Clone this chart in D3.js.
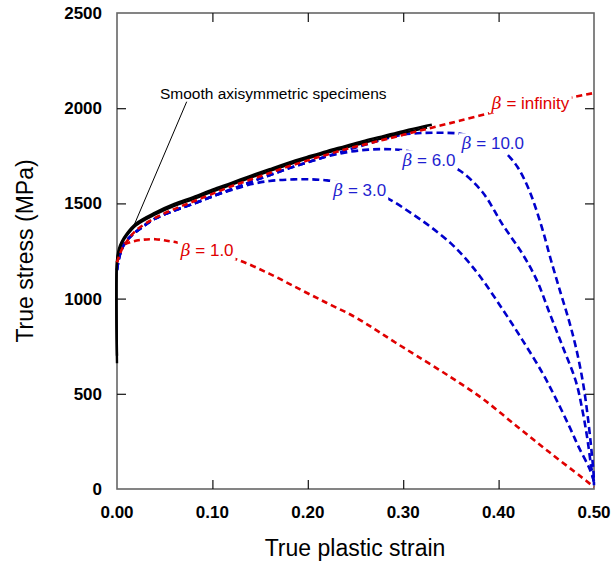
<!DOCTYPE html>
<html>
<head>
<meta charset="utf-8">
<script src="https://cdn.jsdelivr.net/npm/d3@7"></script>
<style>
  body { margin: 0; background: #fff; }
  text { font-family: "Liberation Sans", Arial, sans-serif; }
</style>
</head>
<body>
<div id="chart"></div>
<script>
// true plastic strain vs true stress (MPa)
const smoothA = [[0,660],[0,1200],[0.002,1262],[0.005,1300],[0.01,1340],[0.02,1395],[0.04,1452],[0.06,1497],[0.08,1533],[0.10,1572],[0.12,1608],[0.14,1645],[0.16,1680],[0.18,1714],[0.20,1745],[0.22,1775],[0.24,1802],[0.26,1830],[0.28,1855],[0.30,1880],[0.32,1903],[0.33,1913]];
const smoothB = [[0,700],[0,1190],[0.002,1250],[0.005,1290],[0.01,1330],[0.02,1385],[0.04,1442],[0.06,1487],[0.08,1523],[0.10,1562],[0.12,1598],[0.14,1635],[0.16,1670],[0.18,1704],[0.20,1736],[0.22,1766],[0.24,1793],[0.26,1820],[0.28,1845],[0.30,1870],[0.32,1893],[0.325,1898]];

const betaInf = [[0,1190],[0.005,1258],[0.01,1298],[0.02,1358],[0.04,1424],[0.06,1470],[0.08,1510],[0.10,1550],[0.12,1590],[0.14,1625],[0.16,1660],[0.18,1695],[0.20,1726],[0.22,1756],[0.24,1785],[0.26,1810],[0.28,1835],[0.30,1860],[0.32,1885],[0.34,1910],[0.36,1935],[0.39,1973],[0.42,2005],[0.44,2022],[0.46,2040],[0.48,2060],[0.50,2080]];
const beta10 = [[0,1150],[0.003,1230],[0.008,1290],[0.015,1330],[0.025,1370],[0.04,1420],[0.06,1462],[0.08,1498],[0.10,1537],[0.12,1574],[0.14,1612],[0.16,1648],[0.18,1684],[0.20,1716],[0.22,1748],[0.24,1778],[0.26,1808],[0.28,1838],[0.30,1862],[0.32,1870],[0.34,1871],[0.36,1866],[0.38,1842],[0.40,1795],[0.41,1752],[0.42,1690],[0.432,1570],[0.445,1380],[0.455,1200],[0.465,1030],[0.474,880],[0.481,745],[0.488,572],[0.493,399],[0.497,220],[0.4995,84],[0.5,20]];
const beta6 = [[0,1150],[0.003,1230],[0.008,1290],[0.015,1330],[0.025,1370],[0.04,1420],[0.06,1462],[0.08,1498],[0.10,1537],[0.12,1574],[0.14,1612],[0.16,1648],[0.18,1684],[0.20,1716],[0.22,1746],[0.24,1768],[0.26,1781],[0.28,1785],[0.30,1779],[0.32,1758],[0.34,1722],[0.36,1670],[0.383,1560],[0.404,1390],[0.425,1235],[0.44,1097],[0.453,930],[0.467,750],[0.481,565],[0.488,410],[0.493,265],[0.497,120],[0.5,30]];
const beta3 = [[0,1150],[0.003,1230],[0.008,1290],[0.015,1330],[0.025,1370],[0.04,1420],[0.06,1462],[0.08,1498],[0.10,1537],[0.12,1570],[0.14,1600],[0.16,1618],[0.18,1625],[0.20,1627],[0.22,1621],[0.24,1604],[0.26,1576],[0.286,1520],[0.31,1443],[0.33,1372],[0.35,1290],[0.365,1212],[0.38,1120],[0.404,945],[0.425,782],[0.446,609],[0.46,475],[0.474,330],[0.484,220],[0.495,110],[0.5,40]];
const beta1 = [[0,1190],[0.003,1250],[0.007,1281],[0.015,1298],[0.025,1308],[0.04,1312],[0.052,1304],[0.063,1295],[0.08,1272],[0.10,1242],[0.127,1203],[0.16,1130],[0.192,1048],[0.22,977],[0.247,910],[0.27,840],[0.29,775],[0.314,700],[0.349,590],[0.383,475],[0.419,330],[0.453,194],[0.488,58],[0.5,10]];

const labelText = ["infinity", "10.0", "6.0", "3.0", "1.0"];
const labelAt = [[0.4335,2026],[0.394,1816],[0.327,1727],[0.2545,1570],[0.0945,1255]];
const labelColor = ["#e00000", "#1f1fd0", "#1f1fd0", "#1f1fd0", "#e00000"];

const xTicks = [0, 0.1, 0.2, 0.3, 0.4, 0.5];
const yTicks = [0, 500, 1000, 1500, 2000, 2500];

const MARGIN = {top: 13, right: 18, bottom: 75, left: 117};
const WIDTH = 612 - MARGIN.left - MARGIN.right;
const HEIGHT = 564 - MARGIN.top - MARGIN.bottom;

const svg = d3.select("#chart").append("svg")
    .attr("width", 612)
    .attr("height", 564)
  .append("g")
    .attr("transform", `translate(${MARGIN.left},${MARGIN.top})`);

const x = d3.scaleLinear().domain([0, 0.5]).range([0, WIDTH]);
const y = d3.scaleLinear().domain([0, 2500]).range([HEIGHT, 0]);

// frame
svg.append("rect")
    .attr("width", WIDTH).attr("height", HEIGHT)
    .attr("fill", "none").attr("stroke", "#666").attr("stroke-width", 1.6);

// inward ticks on all four sides
const inner = [
  {axis: d3.axisBottom(x), t: `translate(0,${HEIGHT})`, vals: xTicks},
  {axis: d3.axisTop(x), t: "translate(0,0)", vals: xTicks},
  {axis: d3.axisLeft(y), t: "translate(0,0)", vals: yTicks},
  {axis: d3.axisRight(y), t: `translate(${WIDTH},0)`, vals: yTicks}
];
inner.forEach(a => {
  const g = svg.append("g").attr("transform", a.t)
    .call(a.axis.tickValues(a.vals.slice(1, -1)).tickSizeInner(-9).tickSizeOuter(0).tickFormat(""));
  g.select(".domain").remove();
  g.selectAll(".tick line").attr("stroke", "#111").attr("stroke-width", 1.2);
});

// tick labels
svg.append("g").selectAll("text").data(xTicks).join("text")
    .attr("x", d => x(d)).attr("y", HEIGHT + 29)
    .attr("text-anchor", "middle")
    .style("font-weight", "bold").style("font-size", "17px")
    .text(d => d3.format(".2f")(d));
svg.append("g").selectAll("text").data(yTicks).join("text")
    .attr("x", -15).attr("y", d => y(d) + 6)
    .attr("text-anchor", "end")
    .style("font-weight", "bold").style("font-size", "17px")
    .text(d => d);

// axis titles
svg.append("text")
    .attr("x", 355 - MARGIN.left).attr("y", 556 - MARGIN.top)
    .attr("text-anchor", "middle").style("font-size", "23px")
    .text("True plastic strain");
svg.append("text")
    .attr("transform", "rotate(-90)")
    .attr("x", -(HEIGHT / 2)).attr("y", 33 - MARGIN.left)
    .attr("text-anchor", "middle").style("font-size", "23px")
    .text("True stress (MPa)");

const line = d3.line().x(d => x(d[0])).y(d => y(d[1])).curve(d3.curveCatmullRom.alpha(0.5));

const curves = [
  {data: beta1, color: "#e00000", dash: "6,4", w: 2.6},
  {data: beta3, color: "#0000cc", dash: "7,4", w: 2.6},
  {data: beta6, color: "#0000cc", dash: "7,4", w: 2.6},
  {data: beta10, color: "#0000cc", dash: "7,4", w: 2.6},
  {data: smoothB, color: "#000", dash: null, w: 2.4},
  {data: smoothA, color: "#000", dash: null, w: 2.4},
  {data: betaInf, color: "#e00000", dash: "6,4", w: 2.6}
];
svg.append("g").selectAll("path").data(curves).join("path")
    .attr("d", d => line(d.data))
    .attr("fill", "none")
    .attr("stroke", d => d.color)
    .attr("stroke-width", d => d.w)
    .attr("stroke-dasharray", d => d.dash);

// beta labels with white backing
labelText.forEach((t, i) => {
  const g = svg.append("g");
  const txt = g.append("text")
      .attr("x", x(labelAt[i][0])).attr("y", y(labelAt[i][1]) + 6)
      .attr("text-anchor", "middle")
      .attr("fill", labelColor[i])
      .style("font-size", "17px");
  txt.append("tspan").style("font-style", "italic").style("font-family", "'DejaVu Serif', serif").text("\u03b2");
  txt.append("tspan").text(" = " + t);
  const b = txt.node().getBBox();
  g.insert("rect", "text")
      .attr("x", b.x - 2).attr("y", b.y)
      .attr("width", b.width + 4).attr("height", b.height)
      .attr("fill", "#fff");
});

// annotation
svg.append("line")
    .attr("x1", 186.7 - MARGIN.left).attr("y1", 101.7 - MARGIN.top)
    .attr("x2", x(0.0174)).attr("y2", y(1380))
    .attr("stroke", "#000").attr("stroke-width", 1);
svg.append("text")
    .attr("x", 160 - MARGIN.left).attr("y", 99 - MARGIN.top)
    .style("font-size", "15.5px")
    .text("Smooth axisymmetric specimens");
</script>
</body>
</html>
